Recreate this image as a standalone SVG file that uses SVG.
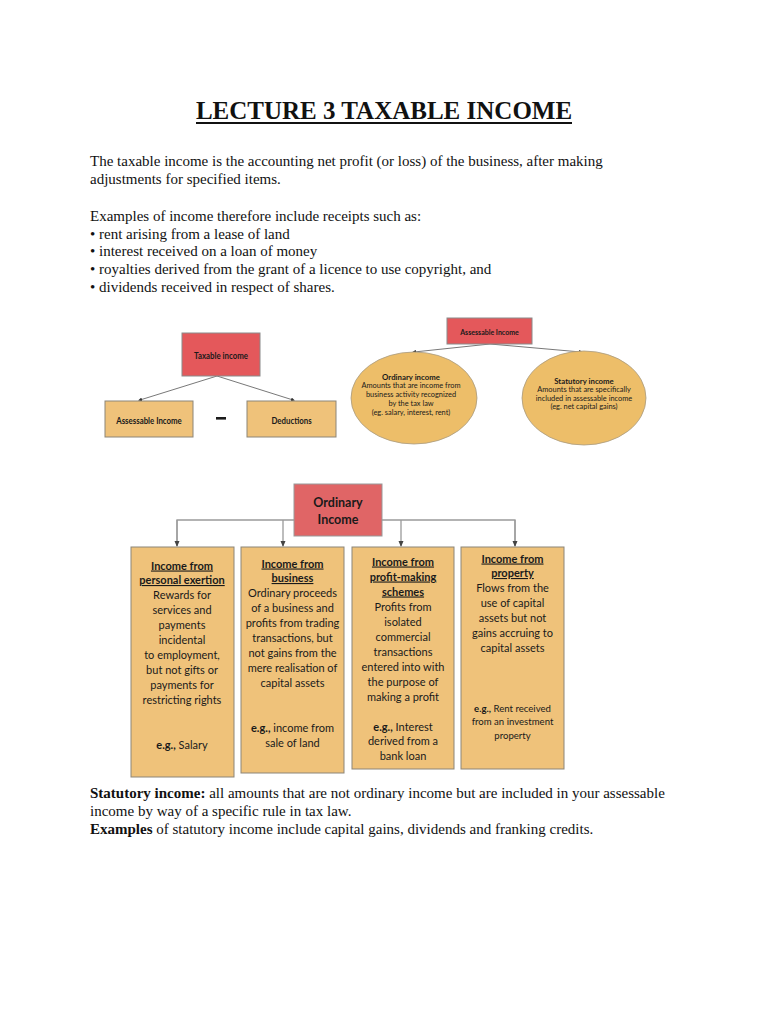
<svg xmlns="http://www.w3.org/2000/svg" width="768" height="1024" viewBox="0 0 768 1024">
<defs>
<style>
.serif{font-family:"Liberation Serif","Times New Roman",serif;fill:#111}
.p{font-size:15px}
.b{font-weight:bold}
.dg{font-family:Lato,"Liberation Sans",sans-serif;fill:#1a1a1a;text-anchor:middle}
.red{fill:#E4585B;stroke:#8a8a8a;stroke-width:1}
.gold{fill:#EFC27A;stroke:#8c8578;stroke-width:1}
.ell{fill:#EDBE69;stroke:#a89a80;stroke-width:0.8}
.ln{stroke:#555;stroke-width:0.8;fill:none}
.ln2{stroke:#9a9a9a;stroke-width:1.3;fill:none}
.t11{font-size:11px}
.t11b{font-size:11px;font-weight:bold;text-decoration:underline}
.t10{font-size:9.6px}
.t8{font-size:7.4px}
.t8b{font-size:7.8px;font-weight:bold}
.t10b{font-size:10.2px;font-weight:bold}
</style>
<marker id="dot" markerWidth="4" markerHeight="4" refX="2" refY="2" markerUnits="userSpaceOnUse" orient="auto">
<path d="M0,0 L4,2 L0,4 z" fill="#333"/>
</marker>
<marker id="ah" markerWidth="6" markerHeight="6" refX="5" refY="3" markerUnits="userSpaceOnUse" orient="auto">
<path d="M0,0.5 L6,3 L0,5.5 z" fill="#444"/>
</marker>
</defs>
<rect width="768" height="1024" fill="#ffffff"/>

<g id="title">
<text class="serif b" x="384" y="119" font-size="25" text-anchor="middle">LECTURE 3 TAXABLE INCOME</text>
<rect x="196" y="122" width="376" height="2" fill="#111"/>
</g>

<g id="intro">
<text class="serif p" x="90" y="166">The taxable income is the accounting net profit (or loss) of the business, after making</text>
<text class="serif p" x="90" y="184">adjustments for specified items.</text>
<text class="serif p" x="90" y="221">Examples of income therefore include receipts such as:</text>
<text class="serif p" x="90" y="239">• rent arising from a lease of land</text>
<text class="serif p" x="90" y="256">• interest received on a loan of money</text>
<text class="serif p" x="90" y="274">• royalties derived from the grant of a licence to use copyright, and</text>
<text class="serif p" x="90" y="292">• dividends received in respect of shares.</text>
</g>

<g id="connectors">
<line class="ln" x1="217" y1="376" x2="140" y2="400" marker-end="url(#dot)"/>
<line class="ln" x1="217" y1="376" x2="293" y2="400" marker-end="url(#dot)"/>
<line class="ln" x1="490" y1="344" x2="414" y2="352" marker-end="url(#dot)"/>
<line class="ln" x1="490" y1="344" x2="581" y2="352" marker-end="url(#dot)"/>
<polyline class="ln2" points="177,546 177,520 515,520 515,546"/>
<line class="ln2" x1="177" y1="520" x2="177" y2="546" marker-end="url(#ah)"/>
<line class="ln2" x1="283" y1="520" x2="283" y2="546" marker-end="url(#ah)"/>
<line class="ln2" x1="401" y1="520" x2="401" y2="546" marker-end="url(#ah)"/>
<line class="ln2" x1="515" y1="520" x2="515" y2="546" marker-end="url(#ah)"/>
</g>

<g id="taxable-income">
<rect class="red" x="182" y="333" width="78" height="43"/>
<text class="dg t10b" transform="translate(221,358.5) scale(0.77,1)" x="0" y="0">Taxable income</text>
</g>
<g id="assessable-income-left">
<rect class="gold" x="105" y="401" width="88" height="36"/>
<text class="dg t10b" transform="translate(149,423.5) scale(0.77,1)" x="0" y="0">Assessable Income</text>
</g>
<g id="minus">
<rect x="216" y="417" width="10" height="2.6" fill="#1a1a1a"/>
</g>
<g id="deductions">
<rect class="gold" x="247" y="401" width="89" height="36"/>
<text class="dg t10b" transform="translate(291.5,423.5) scale(0.77,1)" x="0" y="0">Deductions</text>
</g>

<g id="assessable-income-top">
<rect class="red" x="447" y="318" width="85" height="26"/>
<text class="dg t8b" transform="translate(489.5,334.5) scale(0.9,1)" x="0" y="0" font-size="8.6">Assessable Income</text>
</g>
<g id="ordinary-income-ellipse">
<ellipse class="ell" cx="414" cy="398" rx="63" ry="46"/>
<text class="dg t8b" x="411" y="379.5">Ordinary income</text>
<text class="dg t8" x="411" y="388">Amounts that are income from</text>
<text class="dg t8" x="411" y="397">business activity recognized</text>
<text class="dg t8" x="411" y="405.5">by the tax law</text>
<text class="dg t8" x="411" y="414.5">(eg. salary, interest, rent)</text>
</g>
<g id="statutory-income-ellipse">
<ellipse class="ell" cx="584" cy="398" rx="62" ry="47"/>
<text class="dg t8b" x="584" y="384">Statutory income</text>
<text class="dg t8" x="584" y="392">Amounts that are specifically</text>
<text class="dg t8" x="584" y="400.5">included in assessable income</text>
<text class="dg t8" x="584" y="409">(eg. net capital gains)</text>
</g>

<g id="ordinary-income">
<rect x="294" y="484" width="88" height="52" fill="#E06566" stroke="#999" stroke-width="1"/>
<text class="dg b" x="338" y="506.5" font-size="12.5">Ordinary</text>
<text class="dg b" x="338" y="523.5" font-size="12.5">Income</text>
</g>

<g id="personal-exertion">
<rect class="gold" x="131" y="547" width="103" height="230"/>
<text class="dg t11b" x="182" y="569.5">Income from </text>
<text class="dg t11b" x="182" y="584">personal exertion</text>
<text class="dg t11" x="182" y="599">Rewards for</text>
<text class="dg t11" x="182" y="614">services and</text>
<text class="dg t11" x="182" y="629">payments</text>
<text class="dg t11" x="182" y="644">incidental</text>
<text class="dg t11" x="182" y="659">to employment,</text>
<text class="dg t11" x="182" y="674">but not gifts or</text>
<text class="dg t11" x="182" y="689">payments for</text>
<text class="dg t11" x="182" y="704">restricting rights</text>
<text class="dg t11" x="182" y="749"><tspan font-weight="bold">e.g.,</tspan> Salary</text>
</g>

<g id="business">
<rect class="gold" x="241" y="547" width="103" height="226"/>
<text class="dg t11b" x="292.5" y="567.5">Income from </text>
<text class="dg t11b" x="292.5" y="582">business</text>
<text class="dg t11" x="292.5" y="597">Ordinary proceeds</text>
<text class="dg t11" x="292.5" y="612">of a business and</text>
<text class="dg t11" x="292.5" y="627">profits from trading</text>
<text class="dg t11" x="292.5" y="642">transactions, but</text>
<text class="dg t11" x="292.5" y="657">not gains from the</text>
<text class="dg t11" x="292.5" y="672">mere realisation of</text>
<text class="dg t11" x="292.5" y="687">capital assets</text>
<text class="dg t11" x="292.5" y="732"><tspan font-weight="bold">e.g.,</tspan> income from</text>
<text class="dg t11" x="292.5" y="746.5">sale of land</text>
</g>

<g id="profit-making-schemes">
<rect class="gold" x="352" y="547" width="102" height="222"/>
<text class="dg t11b" x="403" y="565.5">Income from </text>
<text class="dg t11b" x="403" y="580.5">profit-making </text>
<text class="dg t11b" x="403" y="595.5">schemes</text>
<text class="dg t11" x="403" y="610.5">Profits from</text>
<text class="dg t11" x="403" y="625.5">isolated</text>
<text class="dg t11" x="403" y="640.5">commercial</text>
<text class="dg t11" x="403" y="655.5">transactions</text>
<text class="dg t11" x="403" y="670.5">entered into with</text>
<text class="dg t11" x="403" y="685.5">the purpose of</text>
<text class="dg t11" x="403" y="700.5">making a profit</text>
<text class="dg t11" x="403" y="730.5"><tspan font-weight="bold">e.g.,</tspan> Interest</text>
<text class="dg t11" x="403" y="745">derived from a</text>
<text class="dg t11" x="403" y="760">bank loan</text>
</g>

<g id="property">
<rect class="gold" x="461" y="547" width="103" height="222"/>
<text class="dg t11b" x="512.5" y="562.5">Income from </text>
<text class="dg t11b" x="512.5" y="577">property</text>
<text class="dg t11" x="512.5" y="592">Flows from the</text>
<text class="dg t11" x="512.5" y="607">use of capital</text>
<text class="dg t11" x="512.5" y="622">assets but not</text>
<text class="dg t11" x="512.5" y="637">gains accruing to</text>
<text class="dg t11" x="512.5" y="652">capital assets</text>
<text class="dg t10" x="512.5" y="711.5"><tspan font-weight="bold">e.g.,</tspan> Rent received</text>
<text class="dg t10" x="512.5" y="725">from an investment</text>
<text class="dg t10" x="512.5" y="739">property</text>
</g>

<g id="statutory-text">
<text class="serif p" x="90" y="798"><tspan font-weight="bold">Statutory income:</tspan> all amounts that are not ordinary income but are included in your assessable</text>
<text class="serif p" x="90" y="816">income by way of a specific rule in tax law.</text>
<text class="serif p" x="90" y="834"><tspan font-weight="bold">Examples</tspan> of statutory income include capital gains, dividends and franking credits.</text>
</g>
</svg>
